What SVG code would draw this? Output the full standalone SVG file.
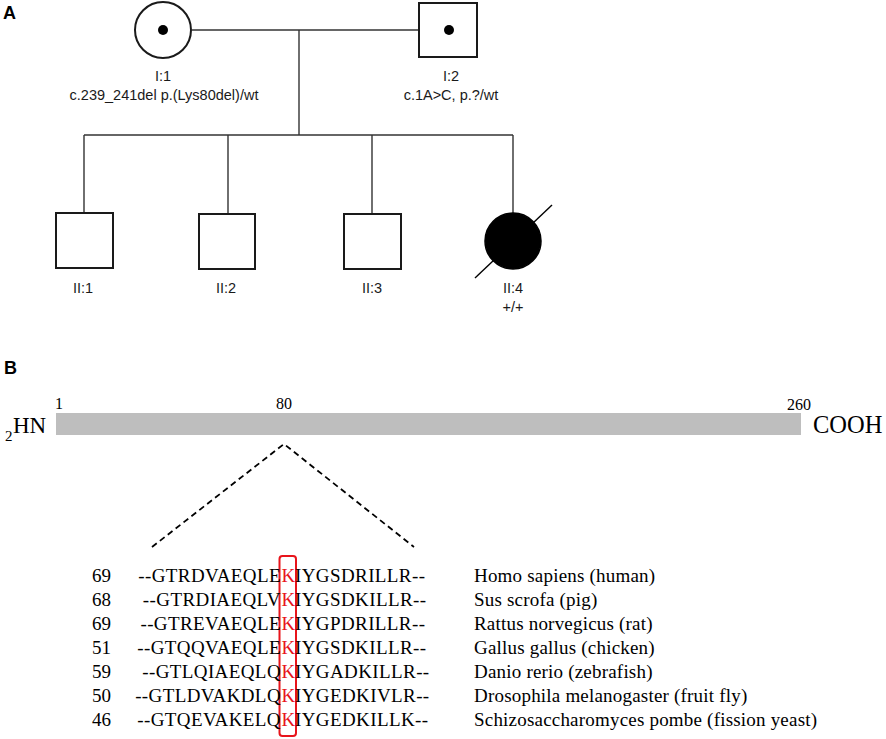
<svg xmlns="http://www.w3.org/2000/svg" width="886" height="739" viewBox="0 0 886 739">
<style>
.sym{fill:#fff;stroke:#1a1a1a;stroke-width:2}
.aff{fill:#000;stroke:#000;stroke-width:1.5}
.dot{fill:#000}
.ln{stroke:#333;stroke-width:1.4;fill:none}
.slash{stroke:#000;stroke-width:1.4;fill:none}
.lbl{font-family:"Liberation Sans",Arial,sans-serif;font-size:14.5px;fill:#1a1a1a;text-anchor:middle}
.panel{font-family:"Liberation Sans",Arial,sans-serif;font-size:18px;font-weight:bold;fill:#000}
.ser{font-family:"Liberation Serif","Times New Roman",serif;fill:#000}
.num{font-size:19px}
.seq{font-size:19px;letter-spacing:0.4px}
.sp{font-size:19px;letter-spacing:0.2px}
.pos{font-size:16px}
.red{fill:#e8141b}
.dash{stroke:#000;stroke-width:1.8;stroke-dasharray:6,4;fill:none}
</style>
<text class="panel" x="3" y="19">A</text>
<text class="panel" x="4" y="374">B</text>
<g id="connectors">
<line class="ln" x1="192" y1="30" x2="419" y2="30"/>
<line class="ln" x1="299" y1="30" x2="299" y2="135"/>
<line class="ln" x1="84" y1="135" x2="513" y2="135"/>
<line class="ln" x1="84" y1="135" x2="84" y2="213"/>
<line class="ln" x1="228" y1="135" x2="228" y2="213"/>
<line class="ln" x1="372" y1="135" x2="372" y2="213"/>
<line class="ln" x1="513" y1="135" x2="513" y2="213"/>
</g>
<g id="I1">
<circle class="sym" cx="163" cy="30" r="28"/>
<circle class="dot" cx="163" cy="30" r="5"/>
<text class="lbl" x="163" y="81">I:1</text>
<text class="lbl" x="164" y="100">c.239_241del p.(Lys80del)/wt</text>
</g>
<g id="I2">
<rect class="sym" x="419" y="3" width="58" height="54"/>
<circle class="dot" cx="449" cy="30" r="5"/>
<text class="lbl" x="451" y="81">I:2</text>
<text class="lbl" x="451" y="100">c.1A&gt;C, p.?/wt</text>
</g>
<g id="II1">
<rect class="sym" x="56" y="213" width="57" height="55"/>
<text class="lbl" x="83" y="293">II:1</text>
</g>
<g id="II2">
<rect class="sym" x="199" y="214" width="56" height="55"/>
<text class="lbl" x="226" y="293">II:2</text>
</g>
<g id="II3">
<rect class="sym" x="344" y="214" width="57" height="55"/>
<text class="lbl" x="372" y="293">II:3</text>
</g>
<g id="II4">
<circle class="aff" cx="513" cy="241" r="28"/>
<line class="slash" x1="475" y1="278" x2="552" y2="205"/>
<text class="lbl" x="513" y="293">II:4</text>
<text class="lbl" x="513" y="312">+/+</text>
</g>
<g id="protein">
<rect x="56" y="413" width="745" height="22" fill="#bebebe"/>
<text class="ser pos" x="55" y="409">1</text>
<text class="ser pos" x="284" y="409" text-anchor="middle">80</text>
<text class="ser pos" x="799" y="410" text-anchor="middle">260</text>
<text class="ser" x="5" y="441" font-size="15">2</text>
<text class="ser" x="13" y="433" font-size="23">HN</text>
<text class="ser" x="813" y="433" font-size="24.5">COOH</text>
</g>
<g id="zoom-lines">
<polyline class="dash" points="152,547 284,444 414,547"/>
</g>
<g id="alignment">
<rect x="279.5" y="556" width="16.5" height="180" rx="3" fill="none" stroke="#e8141b" stroke-width="2"/>
<g class="ser num">
<text x="92" y="582">69</text>
<text x="92" y="606">68</text>
<text x="92" y="630">69</text>
<text x="92" y="654">51</text>
<text x="92" y="678">59</text>
<text x="92" y="702">50</text>
<text x="92" y="726">46</text>
</g>
<g class="ser seq" text-anchor="end">
<text x="281" y="582">--GTRDVAEQLE</text>
<text x="281" y="606">--GTRDIAEQLV</text>
<text x="281" y="630">--GTREVAEQLE</text>
<text x="281" y="654">--GTQQVAEQLE</text>
<text x="281" y="678">--GTLQIAEQLQ</text>
<text x="281" y="702">--GTLDVAKDLQ</text>
<text x="281" y="726">--GTQEVAKELQ</text>
</g>
<g class="ser seq">
<text class="red" x="281.5" y="582">K</text>
<text class="red" x="281.5" y="606">K</text>
<text class="red" x="281.5" y="630">K</text>
<text class="red" x="281.5" y="654">K</text>
<text class="red" x="281.5" y="678">K</text>
<text class="red" x="281.5" y="702">K</text>
<text class="red" x="281.5" y="726">K</text>
</g>
<g class="ser seq">
<text x="295" y="582">IYGSDRILLR--</text>
<text x="295" y="606">IYGSDKILLR--</text>
<text x="295" y="630">IYGPDRILLR--</text>
<text x="295" y="654">IYGSDKILLR--</text>
<text x="295" y="678">IYGADKILLR--</text>
<text x="295" y="702">IYGEDKIVLR--</text>
<text x="295" y="726">IYGEDKILLK--</text>
</g>
<g class="ser sp">
<text x="474" y="582">Homo sapiens (human)</text>
<text x="474" y="606">Sus scrofa (pig)</text>
<text x="474" y="630">Rattus norvegicus (rat)</text>
<text x="474" y="654">Gallus gallus (chicken)</text>
<text x="474" y="678">Danio rerio (zebrafish)</text>
<text x="474" y="702">Drosophila melanogaster (fruit fly)</text>
<text x="474" y="726">Schizosaccharomyces pombe (fission yeast)</text>
</g>
</g>
</svg>
